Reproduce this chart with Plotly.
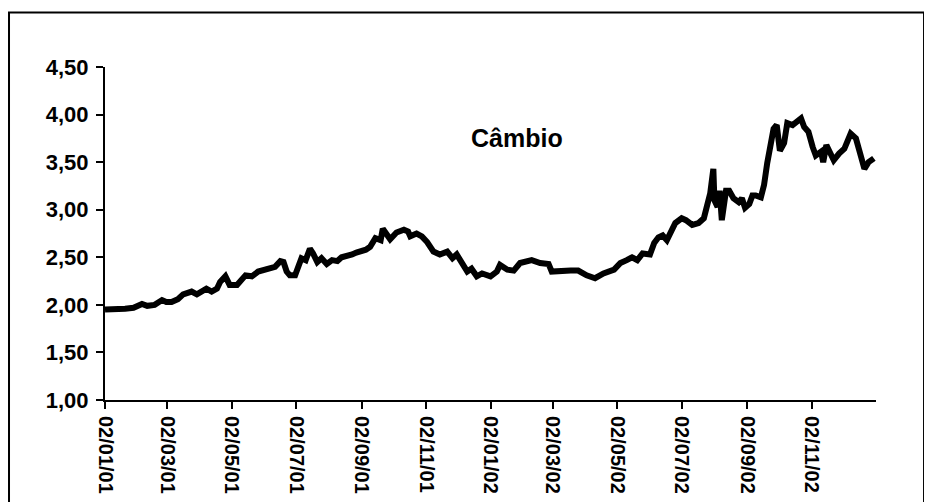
import plotly.graph_objects as go

# Daily exchange rate (R$/US$) at irregular dates
DATES = [
    "2001-01-02", "2001-01-10", "2001-01-18", "2001-01-21", "2001-01-29", "2001-02-06",
    "2001-02-11", "2001-02-18", "2001-02-25", "2001-03-01", "2001-03-06", "2001-03-12",
    "2001-03-17", "2001-03-21", "2001-03-25", "2001-03-30", "2001-04-04", "2001-04-08",
    "2001-04-13", "2001-04-18", "2001-04-21", "2001-04-26", "2001-04-30", "2001-05-07",
    "2001-05-15", "2001-05-21", "2001-05-27", "2001-06-01", "2001-06-07", "2001-06-12",
    "2001-06-17", "2001-06-20", "2001-06-23", "2001-06-26", "2001-07-01", "2001-07-04",
    "2001-07-07", "2001-07-11", "2001-07-15", "2001-07-18", "2001-07-22", "2001-07-26",
    "2001-07-31", "2001-08-05", "2001-08-10", "2001-08-14", "2001-08-19", "2001-08-24",
    "2001-08-28", "2001-09-02", "2001-09-06", "2001-09-10", "2001-09-15", "2001-09-20",
    "2001-09-22", "2001-09-29", "2001-10-05", "2001-10-12", "2001-10-16", "2001-10-18",
    "2001-10-24", "2001-10-29", "2001-11-03", "2001-11-09", "2001-11-15", "2001-11-22",
    "2001-11-27", "2001-12-01", "2001-12-06", "2001-12-11", "2001-12-15", "2001-12-20",
    "2001-12-25", "2002-01-02", "2002-01-08", "2002-01-11", "2002-01-18", "2002-01-24",
    "2002-01-30", "2002-02-10", "2002-02-18", "2002-02-26", "2002-03-01", "2002-03-08",
    "2002-03-19", "2002-03-26", "2002-04-03", "2002-04-11", "2002-04-19", "2002-04-29",
    "2002-05-05", "2002-05-11", "2002-05-16", "2002-05-21", "2002-05-26", "2002-06-02",
    "2002-06-06", "2002-06-10", "2002-06-14", "2002-06-18", "2002-06-21", "2002-06-26",
    "2002-07-02", "2002-07-06", "2002-07-12", "2002-07-18", "2002-07-23", "2002-07-26",
    "2002-07-29", "2002-08-01", "2002-08-02", "2002-08-05", "2002-08-07", "2002-08-09",
    "2002-08-13", "2002-08-16", "2002-08-20", "2002-08-25", "2002-08-28", "2002-08-31",
    "2002-09-04", "2002-09-07", "2002-09-10", "2002-09-15", "2002-09-18", "2002-09-21",
    "2002-09-24", "2002-09-27", "2002-09-30", "2002-10-03", "2002-10-07", "2002-10-10",
    "2002-10-15", "2002-10-19", "2002-10-23", "2002-10-26", "2002-10-30", "2002-11-03",
    "2002-11-06", "2002-11-11", "2002-11-13", "2002-11-16", "2002-11-20", "2002-11-23",
    "2002-11-28", "2002-12-03", "2002-12-09", "2002-12-14", "2002-12-17", "2002-12-22",
    "2002-12-26", "2002-12-31",
]
CAMBIO = [
    1.95, 1.95, 1.95, 1.96, 1.97, 2.01,
    1.99, 2.00, 2.05, 2.03, 2.03, 2.06,
    2.11, 2.13, 2.14, 2.11, 2.15, 2.17,
    2.14, 2.17, 2.24, 2.30, 2.21, 2.21,
    2.31, 2.30, 2.35, 2.37, 2.39, 2.40,
    2.46, 2.45, 2.35, 2.31, 2.31, 2.40,
    2.49, 2.47, 2.59, 2.54, 2.45, 2.49,
    2.43, 2.47, 2.46, 2.50, 2.51, 2.53,
    2.55, 2.56, 2.58, 2.61, 2.70, 2.68,
    2.80, 2.69, 2.76, 2.79, 2.77, 2.72,
    2.75, 2.72, 2.66, 2.56, 2.53, 2.56,
    2.49, 2.53, 2.45, 2.35, 2.38, 2.30,
    2.33, 2.30, 2.35, 2.42, 2.37, 2.36,
    2.44, 2.47, 2.44, 2.43, 2.35, 2.36,
    2.36, 2.36, 2.31, 2.28, 2.33, 2.37,
    2.44, 2.47, 2.50, 2.47, 2.54, 2.53,
    2.65, 2.71, 2.73, 2.68, 2.75, 2.86,
    2.91, 2.89, 2.84, 2.86, 2.91, 3.03,
    3.17, 3.43, 3.10, 3.03, 3.20, 2.89,
    3.20, 3.20, 3.12, 3.08, 3.12, 3.02,
    3.06, 3.15, 3.15, 3.13, 3.26, 3.49,
    3.70, 3.85, 3.89, 3.62, 3.70, 3.91,
    3.89, 3.92, 3.96, 3.87, 3.82, 3.66,
    3.57, 3.61, 3.50, 3.68, 3.59, 3.52,
    3.59, 3.64, 3.80, 3.75, 3.63, 3.43,
    3.50, 3.54,
]

X_TICKS = ["2001-01-02", "2001-03-02", "2001-05-02", "2001-07-02", "2001-09-02", "2001-11-02",
           "2002-01-02", "2002-03-02", "2002-05-02", "2002-07-02", "2002-09-02", "2002-11-02"]
X_LABELS = ["02/01/01", "02/03/01", "02/05/01", "02/07/01", "02/09/01", "02/11/01",
            "02/01/02", "02/03/02", "02/05/02", "02/07/02", "02/09/02", "02/11/02"]
Y_TICKS = [1.0, 1.5, 2.0, 2.5, 3.0, 3.5, 4.0, 4.5]
Y_LABELS = ["1,00", "1,50", "2,00", "2,50", "3,00", "3,50", "4,00", "4,50"]

FONT = "Liberation Sans, Arial, sans-serif"

fig = go.Figure()
fig.add_trace(go.Scatter(
    x=DATES, y=CAMBIO, mode='lines', name='Câmbio',
    line=dict(color='#000000', width=6),
    hoverinfo='skip', showlegend=False
))

# Outer chart border (runs off the bottom of the picture)
fig.add_shape(type='rect', xref='paper', yref='paper',
              x0=-0.1245, x1=1.0623, y0=-0.4, y1=1.1637,
              line=dict(color='#000000', width=2), fillcolor='rgba(0,0,0,0)')

fig.add_annotation(text='<b>Câmbio</b>', xref='paper', yref='paper',
                   x=0.534, y=0.787, xanchor='center', yanchor='middle', showarrow=False,
                   font=dict(family=FONT, size=25, color='#000000'))

# page body keeps an 8px margin, so the figure is sized to the remaining window
fig.update_layout(
    width=924, height=494,
    paper_bgcolor='#ffffff',
    plot_bgcolor='#ffffff',
    font=dict(family=FONT, color='#000000'),
    margin=dict(l=97, r=56, t=59, b=102),
    xaxis=dict(
        type='date', range=['2001-01-02', '2003-01-02'],
        tickvals=X_TICKS, ticktext=X_LABELS, tickangle=90,
        tickfont=dict(family=FONT, size=20, weight='bold'),
        ticks='outside', ticklen=7, tickwidth=1.5, tickcolor='#000000',
        ticklabelstandoff=3, automargin=False,
        showline=True, linecolor='#000000', linewidth=2,
        showgrid=False, zeroline=False
    ),
    yaxis=dict(
        range=[1.0, 4.5],
        tickvals=Y_TICKS, ticktext=Y_LABELS,
        tickfont=dict(family=FONT, size=22, weight='bold'),
        ticks='outside', ticklen=7, tickwidth=1.5, tickcolor='#000000',
        ticklabelstandoff=3, automargin=False,
        showline=True, linecolor='#000000', linewidth=2,
        showgrid=False, zeroline=False
    ),
)

fig.write_html("out.html")
